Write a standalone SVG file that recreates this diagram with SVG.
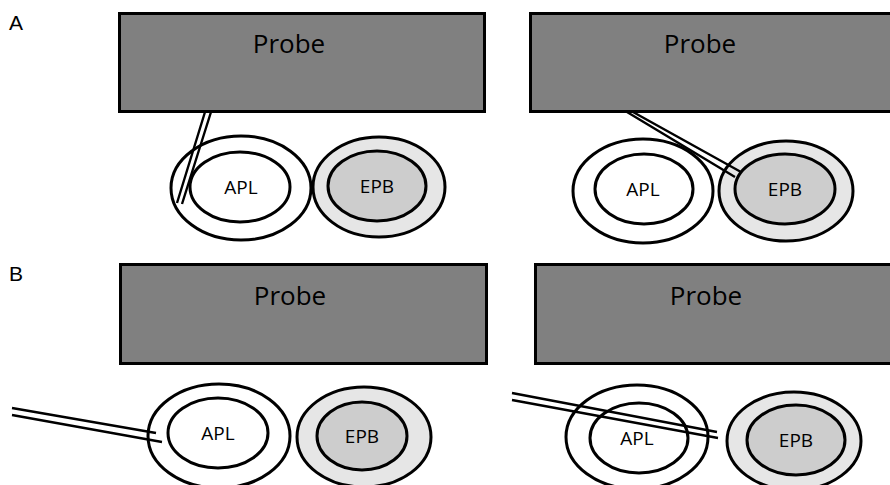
<svg xmlns="http://www.w3.org/2000/svg" width="890" height="485" viewBox="0 0 890 485">
<style>
.probe{fill:#808080;stroke:#000;stroke-width:3}
.ptxt{font-family:"Open Sans","Liberation Sans",sans-serif;font-size:26px;fill:#000;text-anchor:middle}
.ring{fill:#fff;stroke:#000;stroke-width:3}
.core{fill:#fff;stroke:#000;stroke-width:3}
.ering{fill:#e6e6e6;stroke:#000;stroke-width:3}
.ecore{fill:#cdcdcd;stroke:#000;stroke-width:3}
.ltxt{font-family:"Open Sans","Liberation Sans",sans-serif;font-size:19px;fill:#000;text-anchor:middle}
.lab{font-family:"Liberation Sans",Arial,sans-serif;font-size:21px;fill:#000}
.needle{fill:none;stroke:#000;stroke-width:2.4}
</style>
<rect width="890" height="485" fill="#fff"/>
<text class="lab" x="9" y="30">A</text>
<text class="lab" x="9" y="281">B</text>

<g id="probe-a1"><rect class="probe" x="119.5" y="13.5" width="365" height="98"/><text class="ptxt" x="289" y="53">Probe</text></g>
<g id="probe-a2"><rect class="probe" x="530.5" y="13.5" width="362" height="98"/><text class="ptxt" x="700" y="53">Probe</text></g>
<g id="probe-b1"><rect class="probe" x="120.5" y="264.5" width="366" height="99"/><text class="ptxt" x="290" y="305">Probe</text></g>
<g id="probe-b2"><rect class="probe" x="535.5" y="264.5" width="358" height="99"/><text class="ptxt" x="706" y="305">Probe</text></g>

<g id="apl-a1"><ellipse class="ring" cx="241" cy="188" rx="70" ry="52"/><ellipse class="core" cx="240" cy="187" rx="50" ry="35"/><text class="ltxt" x="241" y="194">APL</text></g>
<g id="epb-a1"><ellipse class="ering" cx="379" cy="187" rx="66" ry="50"/><ellipse class="ecore" cx="377" cy="186" rx="49" ry="35"/><text class="ltxt" x="377" y="193">EPB</text></g>

<g id="apl-a2"><ellipse class="ring" cx="643" cy="191" rx="70" ry="52"/><ellipse class="core" cx="644" cy="189" rx="49" ry="35"/><text class="ltxt" x="643" y="196">APL</text></g>
<g id="epb-a2"><ellipse class="ering" cx="786" cy="191" rx="67" ry="50"/><ellipse class="ecore" cx="785" cy="189" rx="50" ry="35"/><text class="ltxt" x="785" y="196">EPB</text></g>

<g id="apl-b1"><ellipse class="ring" cx="219" cy="436" rx="71" ry="52"/><ellipse class="core" cx="218" cy="433" rx="50" ry="35"/><text class="ltxt" x="218" y="440">APL</text></g>
<g id="epb-b1"><ellipse class="ering" cx="364" cy="437" rx="67" ry="50"/><ellipse class="ecore" cx="362" cy="436" rx="45" ry="34"/><text class="ltxt" x="362" y="443">EPB</text></g>

<g id="apl-b2"><ellipse class="ring" cx="637" cy="437" rx="71" ry="52"/><ellipse class="core" cx="639" cy="438" rx="49" ry="35"/><text class="ltxt" x="637" y="445">APL</text></g>
<g id="epb-b2"><ellipse class="ering" cx="794" cy="441" rx="67" ry="49"/><ellipse class="ecore" cx="796" cy="440" rx="49" ry="35"/><text class="ltxt" x="796" y="447">EPB</text></g>

<g id="connectors">
<path class="needle" d="M205,112 L177,203 M211,112 L182,204"/>
<path class="needle" d="M627,112 L735,177 M633,112 L741,172"/>
<path class="needle" d="M12,408 L156,433 M12,415 L162,442"/>
<path class="needle" d="M512,393 L717,432 M512,400 L718,438"/>
</g>
</svg>
